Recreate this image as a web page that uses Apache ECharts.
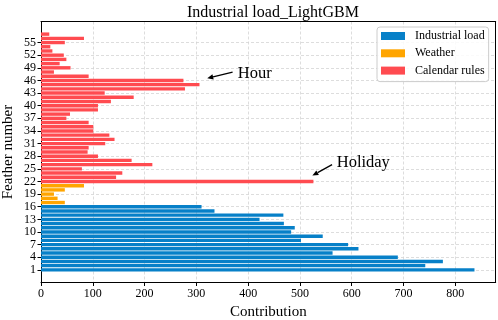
<!DOCTYPE html>
<html>
<head>
<meta charset="utf-8">
<script src="https://cdn.jsdelivr.net/npm/echarts@6/dist/echarts.min.js"></script>
<style>html,body{margin:0;padding:0;background:#fff;}#c{width:498px;height:320px;}</style>
</head>
<body>
<div id="c"></div>
<script>
// Feature numbers 1..57
const industrialLoad = [837, 742, 776, 689, 563, 613, 593, 502, 544, 483, 490, 469, 422, 468, 335, 310]; // features 1-16
const weather = [46, 32, 25, 46, 83]; // features 17-21
const calendarRules = [526, 145, 157, 79, 215, 175, 110, 90, 92, 124, 142, 132, 101, 101, 92, 49, 56, 110,
  110, 135, 179, 123, 278, 306, 275, 92, 25, 57, 36, 49, 44, 22, 18, 46, 83, 16]; // features 22-57
const yTickLabels = ['1','4','7','10','13','16','19','22','25','28','31','34','37','40','43','46','49','52','55'];
const xTicks = [0, 100, 200, 300, 400, 500, 600, 700, 800];
// annotations in data units: [contribution, feature number]
const hourText = [380, 47.7], hourFrom = [370, 48.0], hourTo = [321, 46.5];
const holidayText = [571, 26.5], holidayFrom = [562, 26.0], holidayTo = [524, 23.4];

const yMin = -2, yMax = 60;
const cats = [];
for (let i = yMin; i <= yMax; i++) cats.push(String(i));
function place(arr, start) {
  const d = cats.map(() => null);
  arr.forEach((v, i) => { d[cats.indexOf(String(start + i))] = v; });
  return d;
}
const FONT = 'Liberation Serif';
const tickSet = new Set(yTickLabels);
const chart = echarts.init(document.getElementById('c'), null, {renderer: 'canvas'});
const opt = {
  animation: false,
  title: {
    text: 'Industrial load_LightGBM', left: 268, top: 0, textAlign: 'center',
    textStyle: {fontFamily: FONT, fontSize: 16, fontWeight: 'normal', color: '#000'}
  },
  legend: {
    orient: 'vertical', left: 377, top: 27,
    itemWidth: 24, itemHeight: 8, itemGap: 3.3, icon: 'rect',
    padding: [2, 4, 4, 4],
    backgroundColor: 'rgba(255,255,255,0.85)', borderColor: '#cccccc', borderWidth: 1, borderRadius: 3,
    textStyle: {fontFamily: FONT, fontSize: 12, color: '#000', lineHeight: 14, padding: [0, 0, 0, 5]},
    data: ['Industrial load', 'Weather', 'Calendar rules']
  },
  grid: {left: 41, right: 2.3, top: 21.5, bottom: 37.5, show: false, containLabel: false, outerBoundsMode: 'none'},
  xAxis: [{
    type: 'value', min: 0, max: 878, interval: 100,
    name: 'Contribution', nameLocation: 'middle', nameGap: 22, nameMoveOverlap: false,
    nameTextStyle: {fontFamily: FONT, fontSize: 15, color: '#000'},
    axisLine: {show: true, lineStyle: {color: '#000', width: 1}},
    axisTick: {show: true, inside: false, length: 3.5, lineStyle: {color: '#000'}},
    axisLabel: {fontFamily: FONT, fontSize: 12, color: '#000', margin: 5, showMaxLabel: false,
      formatter: v => (xTicks.indexOf(v) >= 0 ? String(v) : '')},
    splitLine: {show: true, lineStyle: {color: '#d4d4d4', type: [3, 2], width: 0.8}}
  }, {
    type: 'value', min: 0, max: 878, position: 'top',
    axisLine: {show: true, onZero: false, lineStyle: {color: '#000', width: 1}},
    axisTick: {show: false}, axisLabel: {show: false}, splitLine: {show: false}
  }],
  yAxis: [{
    type: 'category', data: cats, boundaryGap: false,
    name: 'Feather number', nameLocation: 'middle', nameGap: 25, nameRotate: 90, nameMoveOverlap: false,
    nameTextStyle: {fontFamily: FONT, fontSize: 15, color: '#000'},
    axisLine: {show: true, lineStyle: {color: '#000', width: 1}},
    axisTick: {show: true, length: 3.5, lineStyle: {color: '#000'}, interval: (i, v) => tickSet.has(v)},
    axisLabel: {fontFamily: FONT, fontSize: 12, color: '#000', margin: 5, interval: (i, v) => tickSet.has(v)},
    splitLine: {show: true, interval: (i, v) => tickSet.has(v), lineStyle: {color: '#d4d4d4', type: [3, 2], width: 0.8}}
  }, {
    type: 'category', data: cats, boundaryGap: false, position: 'right',
    axisLine: {show: true, onZero: false, lineStyle: {color: '#000', width: 1}},
    axisTick: {show: false}, axisLabel: {show: false}, splitLine: {show: false}
  }],
  series: [
    {name: 'Industrial load', type: 'bar', stack: 'all', data: place(industrialLoad, 1), barWidth: 3.4, itemStyle: {color: '#0780c8'}},
    {name: 'Weather', type: 'bar', stack: 'all', data: place(weather, 17), barWidth: 3.4, itemStyle: {color: '#ffa500'}},
    {name: 'Calendar rules', type: 'bar', stack: 'all', data: place(calendarRules, 22), barWidth: 3.4, itemStyle: {color: '#ff4b50'}}
  ]
};
chart.setOption(opt);

function toPx(p) {
  const x = chart.convertToPixel({xAxisIndex: 0}, p[0]);
  const lo = Math.floor(p[1]), hi = lo + 1, f = p[1] - lo;
  const ylo = chart.convertToPixel({yAxisIndex: 0}, String(lo));
  const yhi = chart.convertToPixel({yAxisIndex: 0}, String(hi));
  return [x, ylo + (yhi - ylo) * f];
}
function arrow(from, to) {
  const a = toPx(from), b = toPx(to);
  const dx = b[0] - a[0], dy = b[1] - a[1], L = Math.hypot(dx, dy);
  const ux = dx / L, uy = dy / L, hl = 6, hw = 2.6;
  const bx = b[0] - ux * hl, by = b[1] - uy * hl;
  return [
    {type: 'line', shape: {x1: a[0], y1: a[1], x2: bx, y2: by}, style: {stroke: '#000', lineWidth: 1.3}, z: 100},
    {type: 'polygon', shape: {points: [[b[0], b[1]], [bx - uy * hw, by + ux * hw], [bx + uy * hw, by - ux * hw]]}, style: {fill: '#000'}, z: 100}
  ];
}
function label(txt, p) {
  const q = toPx(p);
  return {type: 'text', x: q[0], y: q[1], style: {text: txt, font: '16.5px "Liberation Serif"', fill: '#000', textVerticalAlign: 'middle', textAlign: 'left'}, z: 100};
}
chart.setOption({graphic: [].concat(arrow(hourFrom, hourTo), arrow(holidayFrom, holidayTo), [label('Hour', hourText), label('Holiday', holidayText)])});
</script>
</body>
</html>
